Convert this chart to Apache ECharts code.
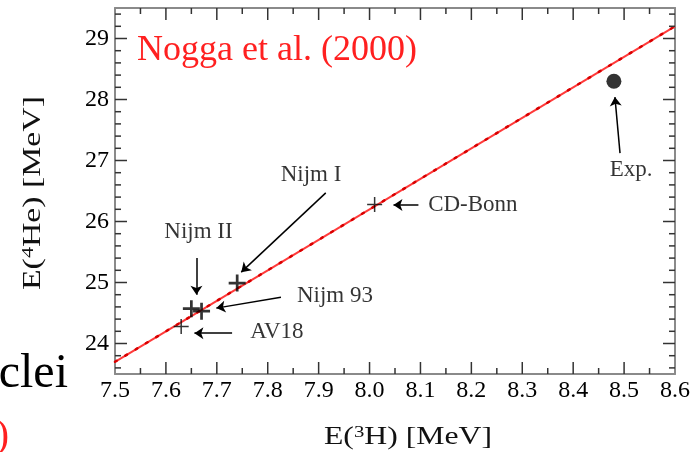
<!DOCTYPE html>
<html>
<head>
<meta charset="utf-8">
<style>
  html, body { margin: 0; padding: 0; width: 100%; height: 100%; overflow: hidden; background: #fff; }
</style>
<script src="https://cdn.jsdelivr.net/npm/echarts@6/dist/echarts.min.js"></script>
</head>
<body>
<div id="container" style="width: 693px; height: 452px;"></div>
<script>
// calculated binding energies, E(3H) and E(4He) in MeV
const potNames = ['AV18', 'Nijm II', 'Nijm 93', 'Nijm I', 'CD-Bonn'];
const potE3H = [7.63, 7.65, 7.67, 7.74, 8.01];
const potE4He = [24.28, 24.57, 24.53, 24.99, 26.28];
const boldCross = ['Nijm II', 'Nijm 93', 'Nijm I'];

// experiment
const expE3H = [8.48];
const expE4He = [28.30];

// straight line through the calculations
const lineE3H = [7.5, 8.6];
const lineE4He = [23.70, 29.20];

const yTickLabels = [24, 25, 26, 27, 28, 29];

// annotation texts and their arrows (data units)
const noteText = ['Nijm I', 'Nijm II', 'Nijm 93', 'AV18', 'CD-Bonn', 'Exp.'];
const noteX = [7.885, 7.664, 7.932, 7.818, 8.203, 8.514];
const noteY = [26.76, 25.83, 24.78, 24.19, 26.27, 26.84];
const arrowFrom = [[7.914, 26.47], [7.660, 25.40], [7.826, 24.76], [7.730, 24.17], [8.096, 26.27], [8.492, 27.12]];
const arrowTo = [[7.748, 25.17], [7.660, 24.80], [7.699, 24.58], [7.656, 24.17], [8.047, 26.27], [8.482, 28.04]];

const serif = "'Liberation Serif', 'Times New Roman', serif";

// frame ticks: every 0.05 on E(3H), every 0.2 on E(4He)
const xTickVals = [];
for (let i = 151; i < 172; i++) xTickVals.push(i / 20);
const yTickVals = [];
for (let i = 236; i < 295; i += 2) yTickVals.push(i / 10);

const thinPlus = 'path://M0,9h20v2h-20z M9,0h2v20h-2z';
const boldPlus = 'path://M0,8.4h20v3.2h-20z M8.4,0h3.2v20h-3.2z';
const tickStyle = { stroke: '#333', lineWidth: 1.5 };

var myChart = echarts.init(document.getElementById('container'), null, { renderer: 'canvas' });

function xAx(pos, labels) {
  return {
    type: 'value', position: pos, min: 7.5, max: 8.6, interval: 0.1,
    axisLine: { show: true, onZero: false, lineStyle: { color: '#8a8a8a', width: 2 } },
    axisTick: { show: false },
    axisLabel: {
      show: labels, margin: 5, color: '#000', fontFamily: serif, fontSize: 24,
      formatter: v => v.toFixed(1)
    },
    splitLine: { show: false }
  };
}
function yAx(pos, labels) {
  return {
    type: 'value', position: pos, min: 23.5, max: 29.5,
    axisLine: { show: true, onZero: false, lineStyle: { color: '#8a8a8a', width: 2 } },
    axisTick: { show: false },
    axisLabel: {
      show: labels, margin: 6, color: '#000', fontFamily: serif, fontSize: 24,
      customValues: yTickLabels, formatter: v => String(Math.round(v))
    },
    splitLine: { show: false }
  };
}

const option = {
  animation: false,
  grid: { left: 115, right: 15, top: 8, bottom: 78 },
  xAxis: [xAx('bottom', true), xAx('top', false)],
  yAxis: [yAx('left', true), yAx('right', false)],
  graphic: [
    {
      type: 'text', x: 137, y: 51,
      style: { text: 'Nogga et al. (2000)', fill: '#ff2020', font: '36px ' + serif, align: 'left', verticalAlign: 'middle' }
    },
    {
      type: 'text', x: 408, y: 437, scaleX: 1.22,
      style: {
        text: '{a|E(}{s|3}{a|H) [MeV]}', align: 'center', verticalAlign: 'middle',
        rich: {
          a: { fontSize: 26, fontFamily: serif, fill: '#111' },
          s: { fontSize: 17, fontFamily: serif, fill: '#111', verticalAlign: 'top' }
        }
      }
    },
    {
      type: 'text', x: 33, y: 193, rotation: Math.PI / 2, scaleX: 1.3,
      style: {
        text: '{a|E(}{s|4}{a|He) [MeV]}', align: 'center', verticalAlign: 'middle',
        rich: {
          a: { fontSize: 26, fontFamily: serif, fill: '#111' },
          s: { fontSize: 17, fontFamily: serif, fill: '#111', verticalAlign: 'top' }
        }
      }
    },
    {
      type: 'text', x: 68, y: 374,
      style: { text: 'clei', fill: '#000', font: '48px ' + serif, align: 'right', verticalAlign: 'middle' }
    },
    {
      type: 'text', x: 9, y: 436,
      style: { text: ')', fill: '#ff2020', font: '40px ' + serif, align: 'right', verticalAlign: 'middle' }
    }
  ],
  series: [
    {
      // ticks on the bottom and top frame
      name: 'x ticks', type: 'custom', silent: true, z: 2, clip: false,
      data: xTickVals.map(v => [v, 23.5]),
      renderItem: (params, api) => {
        const v = api.value(0);
        const len = Math.abs(v * 10 - Math.round(v * 10)) < 1e-6 ? 12 : 6;
        const b = api.coord([v, 23.5]);
        const t = api.coord([v, 29.5]);
        return {
          type: 'group',
          children: [
            { type: 'line', shape: { x1: b[0], y1: b[1], x2: b[0], y2: b[1] - len }, style: tickStyle },
            { type: 'line', shape: { x1: t[0], y1: t[1], x2: t[0], y2: t[1] + len }, style: tickStyle }
          ]
        };
      }
    },
    {
      // ticks on the left and right frame
      name: 'y ticks', type: 'custom', silent: true, z: 2, clip: false,
      data: yTickVals.map(v => [7.5, v]),
      renderItem: (params, api) => {
        const v = api.value(1);
        const len = Math.abs(v - Math.round(v)) < 1e-6 ? 12 : 6;
        const l = api.coord([7.5, v]);
        const r = api.coord([8.6, v]);
        return {
          type: 'group',
          children: [
            { type: 'line', shape: { x1: l[0], y1: l[1], x2: l[0] + len, y2: l[1] }, style: tickStyle },
            { type: 'line', shape: { x1: r[0] - len, y1: r[1], x2: r[0], y2: r[1] }, style: tickStyle }
          ]
        };
      }
    },
    {
      name: 'line', type: 'line', showSymbol: false, silent: true, z: 1,
      data: lineE3H.map((x, i) => [x, lineE4He[i]]),
      lineStyle: { color: '#ff3a3a', width: 2 }
    },
    {
      name: 'line dots', type: 'line', showSymbol: false, silent: true, z: 1,
      data: lineE3H.map((x, i) => [x, lineE4He[i]]),
      lineStyle: { color: '#d80000', width: 2.5, type: [2, 10], cap: 'round' }
    },
    {
      name: 'potentials', type: 'scatter', z: 3,
      data: potNames.map((n, i) => ({
        name: n, value: [potE3H[i], potE4He[i]],
        symbol: boldCross.includes(n) ? boldPlus : thinPlus,
        symbolSize: boldCross.includes(n) ? 17 : 15
      })),
      itemStyle: { color: '#000' }
    },
    {
      name: 'Exp.', type: 'scatter', z: 3, symbol: 'circle', symbolSize: 15,
      data: expE3H.map((x, i) => [x, expE4He[i]]),
      itemStyle: { color: '#000' }
    },
    {
      name: 'notes', type: 'scatter', z: 4, symbolSize: 1, silent: true,
      data: noteText.map((t, i) => ({ name: t, value: [noteX[i], noteY[i]] })),
      itemStyle: { color: 'rgba(0,0,0,0)' },
      label: {
        show: true, position: 'inside', formatter: p => p.name,
        color: '#000', fontFamily: serif, fontSize: 23
      },
      markLine: {
        silent: true, symbol: ['none', 'arrow'], symbolSize: 9,
        label: { show: false },
        lineStyle: { color: '#000', width: 1.5, type: 'solid' },
        data: arrowFrom.map((f, i) => [{ coord: f }, { coord: arrowTo[i] }])
      }
    }
  ]
};

myChart.setOption(option);
window.addEventListener('resize', myChart.resize);
</script>
</body>
</html>
